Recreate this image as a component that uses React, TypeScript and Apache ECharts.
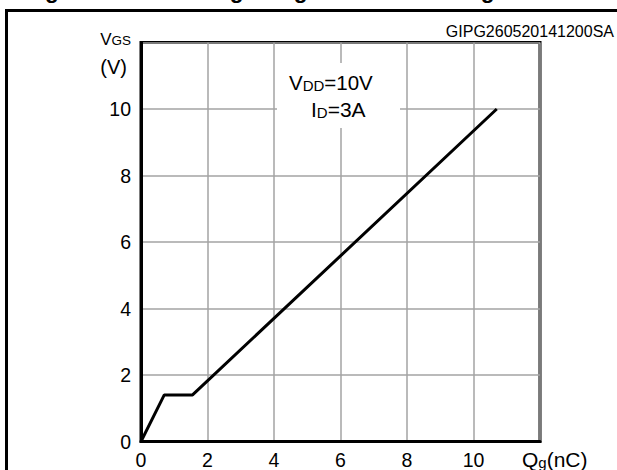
import React, { useEffect, useRef } from "react";
import * as echarts from "echarts";

const qgValues = [0, 0.7, 1.55, 10.7];
const vgsValues = [0, 1.4, 1.4, 10];
const xTickLabels = ["0", "2", "4", "6", "8", "10", ""];
const yTickLabels = ["0", "2", "4", "6", "8", "10", ""];
const titleText = "Figure 6. Gate charge vs gate-source voltage";
const codeText = "GIPG260520141200SA";

const FONT = '"Liberation Sans", Arial, Helvetica, sans-serif';

export default function App() {
  const ref = useRef<HTMLDivElement>(null);
  useEffect(() => {
    if (!ref.current) return;
    const chart = echarts.init(ref.current, undefined, { renderer: "svg" });
    const data = qgValues.map((x, i) => [x, vgsValues[i]]);
    chart.setOption({
      animation: false,
      backgroundColor: "#ffffff",
      textStyle: { fontFamily: FONT },
      grid: {
        left: 141,
        top: 42.5,
        width: 399,
        height: 399,
        show: true,
        borderColor: "#000",
        borderWidth: 3,
        backgroundColor: "transparent",
      },
      xAxis: {
        type: "value",
        min: 0,
        max: 12,
        interval: 2,
        axisLine: { show: true, lineStyle: { color: "#000", width: 3 } },
        axisTick: { show: false },
        splitLine: { show: true, lineStyle: { color: "#a3a3a3", width: 1.5 } },
        axisLabel: {
          color: "#000",
          fontSize: 19.5,
          fontFamily: FONT,
          margin: 8,
          formatter: (v: number) => xTickLabels[Math.round(v / 2)] ?? "",
        },
      },
      yAxis: {
        type: "value",
        min: 0,
        max: 12,
        interval: 2,
        axisLine: { show: true, lineStyle: { color: "#000", width: 3 } },
        axisTick: { show: false },
        splitLine: { show: true, lineStyle: { color: "#a3a3a3", width: 1.5 } },
        axisLabel: {
          color: "#000",
          fontSize: 19.5,
          fontFamily: FONT,
          margin: 10,
          formatter: (v: number) => yTickLabels[Math.round(v / 2)] ?? "",
        },
      },
      series: [
        {
          type: "line",
          data,
          symbol: "none",
          lineStyle: { color: "#000", width: 3 },
          z: 5,
        },
      ],
      graphic: [
        {
          type: "text",
          x: 25,
          y: -10,
          style: {
            text: titleText,
            font: `bold 22.6px ${FONT}`,
            fill: "#000",
            verticalAlign: "middle",
          },
        },
        {
          type: "rect",
          shape: { x: 6.5, y: 10.5, width: 900, height: 900 },
          style: { fill: "none", stroke: "#000", lineWidth: 3 },
        },
        {
          type: "text",
          x: 614,
          y: 31,
          style: {
            text: codeText,
            font: `16px ${FONT}`,
            fill: "#000",
            align: "right",
            verticalAlign: "middle",
          },
        },
        {
          type: "text",
          x: 131,
          y: 39,
          style: {
            text: "{a|V}{b|GS}",
            align: "right",
            verticalAlign: "middle",
            fill: "#000",
            rich: {
              a: { fontSize: 17, fontFamily: FONT, fill: "#000", verticalAlign: "bottom" },
              b: { fontSize: 13.5, fontFamily: FONT, fill: "#000", verticalAlign: "bottom" },
            },
          },
        },
        {
          type: "text",
          x: 127,
          y: 67,
          style: {
            text: "(V)",
            font: `20px ${FONT}`,
            fill: "#000",
            align: "right",
            verticalAlign: "middle",
          },
        },
        {
          type: "rect",
          shape: { x: 277, y: 63, width: 123, height: 65 },
          style: { fill: "#fff" },
          z: 10,
        },
        {
          type: "text",
          x: 289,
          y: 82,
          z: 11,
          style: {
            text: "{a|V}{b|DD}{a|=10V}",
            align: "left",
            verticalAlign: "middle",
            fill: "#000",
            rich: {
              a: { fontSize: 20.5, fontFamily: FONT, fill: "#000", verticalAlign: "bottom" },
              b: { fontSize: 15, fontFamily: FONT, fill: "#000", verticalAlign: "bottom" },
            },
          },
        },
        {
          type: "text",
          x: 311,
          y: 109,
          z: 11,
          style: {
            text: "{a|I}{b|D}{a|=3A}",
            align: "left",
            verticalAlign: "middle",
            fill: "#000",
            rich: {
              a: { fontSize: 21, fontFamily: FONT, fill: "#000", verticalAlign: "bottom" },
              b: { fontSize: 15, fontFamily: FONT, fill: "#000", verticalAlign: "bottom" },
            },
          },
        },
        {
          type: "text",
          x: 522,
          y: 459,
          style: {
            text: "{a|Q}{b|g}{a|(nC)}",
            align: "left",
            verticalAlign: "middle",
            fill: "#000",
            rich: {
              a: { fontSize: 21, fontFamily: FONT, fill: "#000", verticalAlign: "bottom" },
              b: { fontSize: 15, fontFamily: FONT, fill: "#000", verticalAlign: "bottom" },
            },
          },
        },
      ],
    });
    return () => chart.dispose();
  }, []);
  return (
    <div
      ref={ref}
      style={{ position: "absolute", left: 0, top: 0, width: 617, height: 470 }}
    />
  );
}
